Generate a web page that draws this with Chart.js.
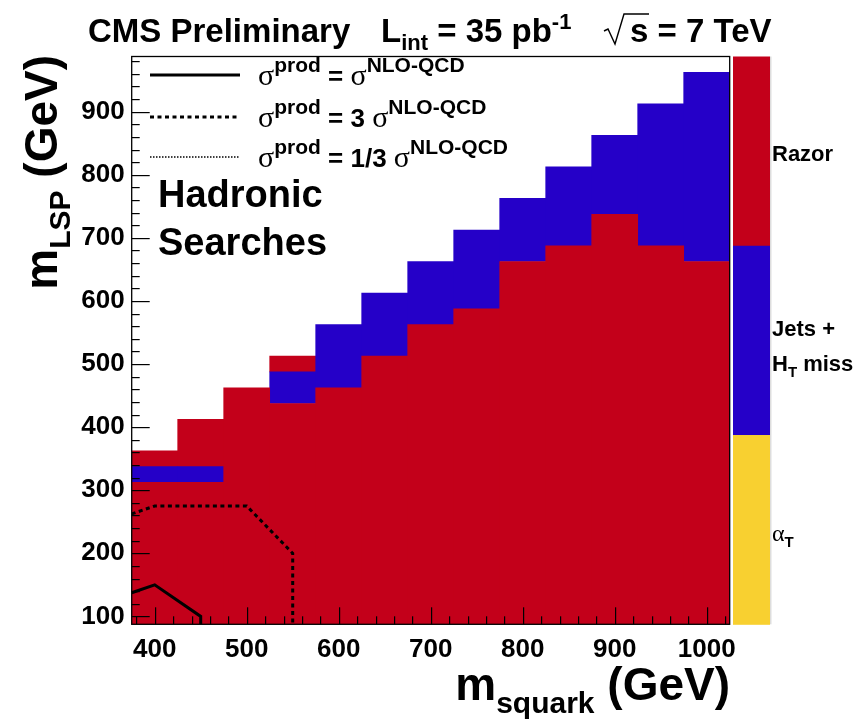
<!DOCTYPE html>
<html>
<head>
<meta charset="utf-8">
<script src="https://cdn.jsdelivr.net/npm/chart.js@4.4.1/dist/chart.umd.min.js"></script>
<style>
html, body { margin: 0; padding: 0; background: #fff; }
canvas { display: block; }
</style>
</head>
<body>
<canvas id="c" width="864" height="726"></canvas>
<script>
// m_squark bin centres (GeV), bins are 50 GeV wide
const squarkBins = [400, 450, 500, 550, 600, 650, 700, 750, 800, 850, 900, 950, 1000];
const lspFloor = 87.5;

// Razor (lower block) top edge per bin
const razorTop = [312.5, 312.5, 462.5, 437.5, 462.5, 512.5, 562.5, 587.5, 662.5, 687.5, 737.5, 687.5, 662.5];
// Jets + HT miss band
const jetsLow  = [312.5, 312.5, null, 437.5, 462.5, 512.5, 562.5, 587.5, 662.5, 687.5, 737.5, 687.5, 662.5];
const jetsHigh = [337.5, 337.5, null, 487.5, 562.5, 612.5, 662.5, 712.5, 762.5, 812.5, 862.5, 912.5, 962.5];
// Razor cells sitting above the Jets band
const razorUpLow  = [337.5, 337.5, null, 487.5, null, null, null, null, null, null, null, null, null];
const razorUpHigh = [362.5, 412.5, null, 512.5, null, null, null, null, null, null, null, null, null];

// contours
const nloX  = [375, 400, 450, 450];
const nloY  = [137.5, 150, 100, 87.5];
const nlo3X = [375, 400, 500, 550, 550];
const nlo3Y = [262.5, 275, 275, 200, 87.5];

const xTicks = [400, 500, 600, 700, 800, 900, 1000];
const yTicks = [100, 200, 300, 400, 500, 600, 700, 800, 900];

const RED = '#c3001a';
const BLUE = '#2500c8';
const YELLOW = '#f8d030';
const paletteColors = [RED, BLUE, YELLOW];

const SANS = '"Liberation Sans", Arial, Helvetica, sans-serif';
const SERIF = '"Liberation Serif", "Times New Roman", serif';

function cells(lo, hi) {
    return squarkBins
        .map((x, i) => (lo[i] == null ? null : { x: x, y: [lo[i], hi[i]] }))
        .filter(Boolean);
}

function points(xs, ys) {
    return xs.map((x, i) => ({ x: x, y: ys[i] }));
}

const barStyle = {
    type: 'bar',
    borderWidth: 0,
    barPercentage: 1.0,
    categoryPercentage: 1.0,
    grouped: false,
    order: 1
};

// texte avec indices / exposants
function rich(ctx, x, y, parts) {
    for (const p of parts) {
        ctx.font = p.f;
        ctx.fillText(p.t, x, y + (p.dy || 0));
        x += ctx.measureText(p.t).width;
    }
    return x;
}
function richWidth(ctx, parts) {
    let w = 0;
    for (const p of parts) {
        ctx.font = p.f;
        w += ctx.measureText(p.t).width;
    }
    return w;
}

const decorations = {
    id: 'decorations',
    afterDraw(chart) {
        const ctx = chart.ctx;
        const area = chart.chartArea;
        const xs = chart.scales.x;
        const ys = chart.scales.y;
        ctx.save();
        ctx.setLineDash([]);
        ctx.globalAlpha = 1;
        ctx.fillStyle = '#000';
        ctx.strokeStyle = '#000';
        ctx.textAlign = 'left';
        ctx.textBaseline = 'alphabetic';

        // ticks pointing inwards
        for (let v = 380; v <= xs.max; v += 20) {
            const px = Math.round(xs.getPixelForValue(v));
            const len = v % 100 === 0 ? 17 : 8;
            ctx.fillRect(px, area.bottom - len, 1.2, len);
        }
        for (let v = 100; v <= ys.max; v += 20) {
            const py = Math.round(ys.getPixelForValue(v));
            const len = v % 100 === 0 ? 18 : 8;
            ctx.fillRect(area.left, py, len, 1.2);
        }

        // frame
        ctx.lineWidth = 1.3;
        ctx.strokeRect(area.left, area.top, area.right - area.left, area.bottom - area.top);

        // colour key
        const kx = 733, kw = 37;
        const kh = (area.bottom - area.top) / paletteColors.length;
        paletteColors.forEach((c, i) => {
            ctx.fillStyle = c;
            ctx.fillRect(kx, area.top + i * kh, kw, kh + 0.5);
        });
        ctx.fillStyle = '#ddd';
        ctx.fillRect(kx + kw, area.top, 1.5, area.bottom - area.top);
        ctx.fillStyle = '#000';
        const kb = 'bold 22px ' + SANS;
        const ks = 'bold 15px ' + SANS;
        rich(ctx, 772, 161, [{ t: 'Razor', f: kb }]);
        rich(ctx, 772, 336, [{ t: 'Jets +', f: kb }]);
        rich(ctx, 772, 371, [{ t: 'H', f: kb }, { t: 'T', f: ks, dy: 6 }, { t: ' miss', f: kb }]);
        rich(ctx, 772, 541, [{ t: 'α', f: '24px ' + SERIF }, { t: 'T', f: ks, dy: 6 }]);

        // header
        const tf = 'bold 33px ' + SANS;
        const ts = 'bold 22px ' + SANS;
        rich(ctx, 88, 42, [{ t: 'CMS Preliminary', f: tf }]);
        rich(ctx, 381, 42, [
            { t: 'L', f: tf }, { t: 'int', f: ts, dy: 8 },
            { t: ' = 35 pb', f: tf }, { t: '-1', f: ts, dy: -13 }
        ]);
        ctx.lineWidth = 1.4;
        ctx.beginPath();
        ctx.moveTo(604, 31);
        ctx.lineTo(608, 29);
        ctx.lineTo(615, 44);
        ctx.lineTo(624, 14);
        ctx.lineTo(649, 14);
        ctx.stroke();
        rich(ctx, 630, 42, [{ t: 's = 7 TeV', f: tf }]);

        // legend
        const legY = [75, 117, 157];
        ctx.lineWidth = 3;
        ctx.setLineDash([]);
        ctx.beginPath(); ctx.moveTo(150, legY[0]); ctx.lineTo(240, legY[0]); ctx.stroke();
        ctx.setLineDash([4, 3.5]);
        ctx.beginPath(); ctx.moveTo(150, legY[1]); ctx.lineTo(240, legY[1]); ctx.stroke();
        ctx.lineWidth = 1.5;
        ctx.setLineDash([1.5, 1.5]);
        ctx.beginPath(); ctx.moveTo(150, legY[2]); ctx.lineTo(240, legY[2]); ctx.stroke();
        ctx.setLineDash([]);
        const sg = '30px ' + SERIF;
        const lb = 'bold 26px ' + SANS;
        const ls = 'bold 21px ' + SANS;
        const factors = [' = ', ' = 3 ', ' = 1/3 '];
        factors.forEach((f, i) => {
            rich(ctx, 258, legY[i] + 10, [
                { t: 'σ', f: sg }, { t: 'prod', f: ls, dy: -13 },
                { t: f, f: lb },
                { t: 'σ', f: sg }, { t: 'NLO-QCD', f: ls, dy: -13 }
            ]);
        });

        const hf = 'bold 38px ' + SANS;
        rich(ctx, 158, 207, [{ t: 'Hadronic', f: hf }]);
        rich(ctx, 158, 255, [{ t: 'Searches', f: hf }]);

        // axis titles
        const af = 'bold 46px ' + SANS;
        const as = 'bold 30px ' + SANS;
        const xTitle = [{ t: 'm', f: af }, { t: 'squark', f: as, dy: 13 }, { t: ' (GeV)', f: af }];
        rich(ctx, 730 - richWidth(ctx, xTitle), 700, xTitle);
        const yTitle = [{ t: 'm', f: af }, { t: 'LSP', f: as, dy: 13 }, { t: ' (GeV)', f: af }];
        const yw = richWidth(ctx, yTitle);
        ctx.translate(57, 55 + yw);
        ctx.rotate(-Math.PI / 2);
        rich(ctx, 0, 0, yTitle);

        ctx.restore();
    }
};

new Chart(document.getElementById('c'), {
    type: 'bar',
    data: {
        datasets: [
            Object.assign({ label: 'Razor', data: cells(squarkBins.map(() => lspFloor), razorTop), backgroundColor: RED }, barStyle),
            Object.assign({ label: 'Jets + HT miss', data: cells(jetsLow, jetsHigh), backgroundColor: BLUE }, barStyle),
            Object.assign({ label: 'Razor (upper)', data: cells(razorUpLow, razorUpHigh), backgroundColor: RED }, barStyle),
            {
                type: 'line',
                label: 'sigma = sigma NLO',
                data: points(nloX, nloY),
                borderColor: '#000',
                borderWidth: 3,
                pointRadius: 0,
                tension: 0,
                fill: false,
                order: 0
            },
            {
                type: 'line',
                label: 'sigma = 3 sigma NLO',
                data: points(nlo3X, nlo3Y),
                borderColor: '#000',
                borderWidth: 3,
                borderDash: [4, 3.5],
                pointRadius: 0,
                tension: 0,
                fill: false,
                order: 0
            }
        ]
    },
    options: {
        responsive: false,
        animation: false,
        devicePixelRatio: 1,
        layout: { padding: { top: 56.5, right: 134.3, left: 0, bottom: 0 } },
        plugins: {
            legend: { display: false },
            tooltip: { enabled: false }
        },
        scales: {
            x: {
                type: 'linear',
                min: 375,
                max: 1025,
                offset: false,
                grid: { display: false, drawTicks: false },
                border: { display: false },
                afterBuildTicks: s => { s.ticks = xTicks.map(v => ({ value: v })); },
                afterFit: s => { s.height = 101.7; },
                ticks: {
                    autoSkip: false,
                    maxRotation: 0,
                    padding: 10,
                    color: '#000',
                    font: { family: SANS, size: 26, weight: 'bold' },
                    callback: v => String(v)
                }
            },
            y: {
                type: 'linear',
                min: lspFloor,
                max: 987.5,
                grid: { display: false, drawTicks: false },
                border: { display: false },
                afterBuildTicks: s => { s.ticks = yTicks.map(v => ({ value: v })); },
                afterFit: s => { s.width = 131.7; },
                ticks: {
                    autoSkip: false,
                    padding: 7,
                    color: '#000',
                    font: { family: SANS, size: 26, weight: 'bold' },
                    callback: v => String(v)
                }
            }
        }
    },
    plugins: [decorations]
});
</script>
</body>
</html>
